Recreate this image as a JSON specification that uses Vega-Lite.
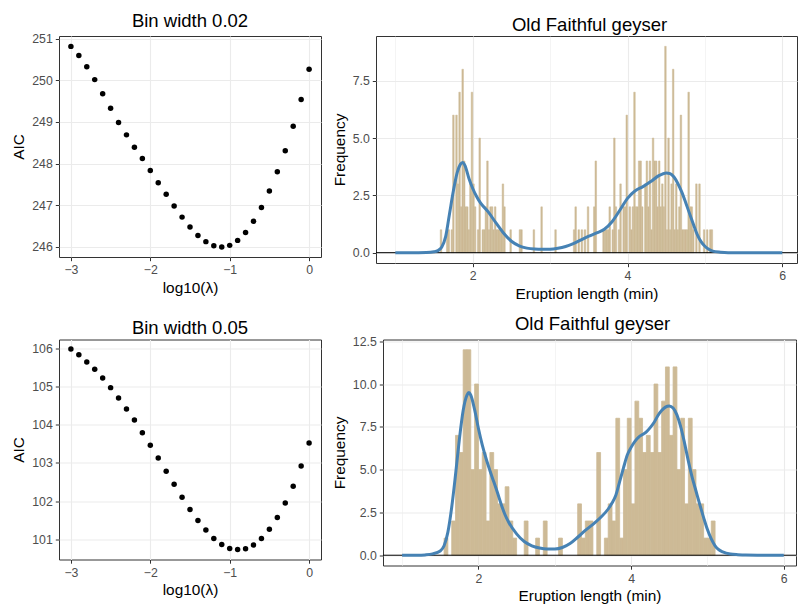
{
  "$schema": "https://vega.github.io/schema/vega-lite/v6.json",
  "background": "white",
  "padding": {"left": 11, "top": 11, "right": 0, "bottom": 0},
  "config": {
    "font": "Liberation Sans",
    "view": {"stroke": "#333333", "strokeWidth": 1},
    "axis": {
      "domain": false,
      "grid": true,
      "gridColor": "#EBEBEB",
      "tickColor": "#333333",
      "tickSize": 3.7,
      "tickWidth": 1,
      "labelColor": "#4D4D4D",
      "labelFontSize": 12.3,
      "labelFont": "Liberation Sans",
      "labelPadding": 3,
      "titleFont": "Liberation Sans",
      "titleFontSize": 15.4,
      "titleFontWeight": "normal",
      "titleColor": "black",
      "titlePadding": 4
    },
    "axisY": {"titlePadding": 5},
    "title": {"font": "Liberation Sans", "fontSize": 18.5, "fontWeight": "normal", "color": "black", "offset": 2, "frame": "group", "anchor": "middle"}
  },
  "datasets": {
    "aic02": [
      {"l": -3.0, "aic": 250.82}, {"l": -2.9, "aic": 250.60}, {"l": -2.8, "aic": 250.33}, {"l": -2.7, "aic": 250.02},
      {"l": -2.6, "aic": 249.68}, {"l": -2.5, "aic": 249.33}, {"l": -2.4, "aic": 248.99}, {"l": -2.3, "aic": 248.69},
      {"l": -2.2, "aic": 248.39}, {"l": -2.1, "aic": 248.12}, {"l": -2.0, "aic": 247.83}, {"l": -1.9, "aic": 247.54},
      {"l": -1.8, "aic": 247.26}, {"l": -1.7, "aic": 246.98}, {"l": -1.6, "aic": 246.71}, {"l": -1.5, "aic": 246.47},
      {"l": -1.4, "aic": 246.27}, {"l": -1.3, "aic": 246.12}, {"l": -1.2, "aic": 246.02}, {"l": -1.1, "aic": 245.99},
      {"l": -1.0, "aic": 246.03}, {"l": -0.9, "aic": 246.15}, {"l": -0.8, "aic": 246.34}, {"l": -0.7, "aic": 246.61},
      {"l": -0.6, "aic": 246.94}, {"l": -0.5, "aic": 247.34}, {"l": -0.4, "aic": 247.80}, {"l": -0.3, "aic": 248.31},
      {"l": -0.2, "aic": 248.90}, {"l": -0.1, "aic": 249.54}, {"l": 0.0, "aic": 250.27}
    ],
    "aic05": [
      {"l": -3.0, "aic": 105.98}, {"l": -2.9, "aic": 105.83}, {"l": -2.8, "aic": 105.64}, {"l": -2.7, "aic": 105.45},
      {"l": -2.6, "aic": 105.22}, {"l": -2.5, "aic": 104.97}, {"l": -2.4, "aic": 104.70}, {"l": -2.3, "aic": 104.41},
      {"l": -2.2, "aic": 104.12}, {"l": -2.1, "aic": 103.79}, {"l": -2.0, "aic": 103.46}, {"l": -1.9, "aic": 103.13},
      {"l": -1.8, "aic": 102.78}, {"l": -1.7, "aic": 102.44}, {"l": -1.6, "aic": 102.10}, {"l": -1.5, "aic": 101.78},
      {"l": -1.4, "aic": 101.49}, {"l": -1.3, "aic": 101.24}, {"l": -1.2, "aic": 101.02}, {"l": -1.1, "aic": 100.86},
      {"l": -1.0, "aic": 100.76}, {"l": -0.9, "aic": 100.73}, {"l": -0.8, "aic": 100.75}, {"l": -0.7, "aic": 100.85},
      {"l": -0.6, "aic": 101.02}, {"l": -0.5, "aic": 101.26}, {"l": -0.4, "aic": 101.57}, {"l": -0.3, "aic": 101.95},
      {"l": -0.2, "aic": 102.39}, {"l": -0.1, "aic": 102.92}, {"l": 0.0, "aic": 103.52}
    ],
    "hist02": [
      {"lo": 1.58, "hi": 1.60, "n": 1}, {"lo": 1.66, "hi": 1.68, "n": 1}, {"lo": 1.68, "hi": 1.70, "n": 1},
      {"lo": 1.72, "hi": 1.74, "n": 1}, {"lo": 1.74, "hi": 1.76, "n": 6}, {"lo": 1.78, "hi": 1.80, "n": 6},
      {"lo": 1.80, "hi": 1.82, "n": 3}, {"lo": 1.82, "hi": 1.84, "n": 7}, {"lo": 1.84, "hi": 1.86, "n": 2},
      {"lo": 1.86, "hi": 1.88, "n": 8}, {"lo": 1.88, "hi": 1.90, "n": 4}, {"lo": 1.90, "hi": 1.92, "n": 2},
      {"lo": 1.92, "hi": 1.94, "n": 2}, {"lo": 1.94, "hi": 1.96, "n": 1}, {"lo": 1.96, "hi": 1.98, "n": 3},
      {"lo": 1.98, "hi": 2.00, "n": 7}, {"lo": 2.00, "hi": 2.02, "n": 3}, {"lo": 2.02, "hi": 2.04, "n": 2},
      {"lo": 2.06, "hi": 2.08, "n": 1}, {"lo": 2.08, "hi": 2.10, "n": 5}, {"lo": 2.12, "hi": 2.14, "n": 1},
      {"lo": 2.14, "hi": 2.16, "n": 1}, {"lo": 2.16, "hi": 2.18, "n": 2}, {"lo": 2.18, "hi": 2.20, "n": 4},
      {"lo": 2.20, "hi": 2.22, "n": 1}, {"lo": 2.22, "hi": 2.24, "n": 2}, {"lo": 2.24, "hi": 2.26, "n": 2},
      {"lo": 2.26, "hi": 2.28, "n": 1}, {"lo": 2.28, "hi": 2.30, "n": 2}, {"lo": 2.30, "hi": 2.32, "n": 1},
      {"lo": 2.32, "hi": 2.34, "n": 1}, {"lo": 2.34, "hi": 2.36, "n": 1}, {"lo": 2.36, "hi": 2.38, "n": 1},
      {"lo": 2.38, "hi": 2.40, "n": 3}, {"lo": 2.40, "hi": 2.42, "n": 2}, {"lo": 2.48, "hi": 2.50, "n": 1},
      {"lo": 2.60, "hi": 2.62, "n": 1}, {"lo": 2.62, "hi": 2.64, "n": 1}, {"lo": 2.78, "hi": 2.80, "n": 1},
      {"lo": 2.88, "hi": 2.90, "n": 2}, {"lo": 3.06, "hi": 3.08, "n": 1}, {"lo": 3.30, "hi": 3.32, "n": 1},
      {"lo": 3.32, "hi": 3.34, "n": 2}, {"lo": 3.36, "hi": 3.38, "n": 1}, {"lo": 3.40, "hi": 3.42, "n": 1},
      {"lo": 3.44, "hi": 3.46, "n": 1}, {"lo": 3.48, "hi": 3.50, "n": 2}, {"lo": 3.56, "hi": 3.58, "n": 2},
      {"lo": 3.58, "hi": 3.60, "n": 4}, {"lo": 3.68, "hi": 3.70, "n": 1}, {"lo": 3.70, "hi": 3.72, "n": 1},
      {"lo": 3.72, "hi": 3.74, "n": 1}, {"lo": 3.74, "hi": 3.76, "n": 1}, {"lo": 3.76, "hi": 3.78, "n": 2},
      {"lo": 3.80, "hi": 3.82, "n": 1}, {"lo": 3.82, "hi": 3.84, "n": 5}, {"lo": 3.84, "hi": 3.86, "n": 2},
      {"lo": 3.88, "hi": 3.90, "n": 1}, {"lo": 3.90, "hi": 3.92, "n": 3}, {"lo": 3.94, "hi": 3.96, "n": 2},
      {"lo": 3.96, "hi": 3.98, "n": 2}, {"lo": 3.98, "hi": 4.00, "n": 6}, {"lo": 4.02, "hi": 4.04, "n": 2},
      {"lo": 4.04, "hi": 4.06, "n": 1}, {"lo": 4.06, "hi": 4.08, "n": 2}, {"lo": 4.08, "hi": 4.10, "n": 7},
      {"lo": 4.10, "hi": 4.12, "n": 2}, {"lo": 4.12, "hi": 4.14, "n": 2}, {"lo": 4.14, "hi": 4.16, "n": 4},
      {"lo": 4.16, "hi": 4.18, "n": 4}, {"lo": 4.18, "hi": 4.20, "n": 2}, {"lo": 4.22, "hi": 4.24, "n": 3},
      {"lo": 4.24, "hi": 4.26, "n": 4}, {"lo": 4.26, "hi": 4.28, "n": 2}, {"lo": 4.28, "hi": 4.30, "n": 4},
      {"lo": 4.30, "hi": 4.32, "n": 1}, {"lo": 4.32, "hi": 4.34, "n": 5}, {"lo": 4.34, "hi": 4.36, "n": 4},
      {"lo": 4.36, "hi": 4.38, "n": 4}, {"lo": 4.38, "hi": 4.40, "n": 2}, {"lo": 4.40, "hi": 4.42, "n": 4},
      {"lo": 4.42, "hi": 4.44, "n": 2}, {"lo": 4.44, "hi": 4.46, "n": 3}, {"lo": 4.46, "hi": 4.48, "n": 2},
      {"lo": 4.48, "hi": 4.50, "n": 9}, {"lo": 4.50, "hi": 4.52, "n": 1}, {"lo": 4.52, "hi": 4.54, "n": 5},
      {"lo": 4.54, "hi": 4.56, "n": 1}, {"lo": 4.56, "hi": 4.58, "n": 3}, {"lo": 4.58, "hi": 4.60, "n": 8},
      {"lo": 4.60, "hi": 4.62, "n": 1}, {"lo": 4.62, "hi": 4.64, "n": 3}, {"lo": 4.64, "hi": 4.66, "n": 1},
      {"lo": 4.66, "hi": 4.68, "n": 2}, {"lo": 4.68, "hi": 4.70, "n": 6}, {"lo": 4.70, "hi": 4.72, "n": 1},
      {"lo": 4.72, "hi": 4.74, "n": 1}, {"lo": 4.74, "hi": 4.76, "n": 1}, {"lo": 4.76, "hi": 4.78, "n": 1},
      {"lo": 4.78, "hi": 4.80, "n": 7}, {"lo": 4.80, "hi": 4.82, "n": 2}, {"lo": 4.82, "hi": 4.84, "n": 2},
      {"lo": 4.84, "hi": 4.86, "n": 1}, {"lo": 4.88, "hi": 4.90, "n": 3}, {"lo": 4.92, "hi": 4.94, "n": 3},
      {"lo": 4.98, "hi": 5.00, "n": 1}, {"lo": 5.02, "hi": 5.04, "n": 1}, {"lo": 5.06, "hi": 5.08, "n": 1},
      {"lo": 5.08, "hi": 5.10, "n": 1}
    ],
    "hist05": [
      {"lo": 1.55, "hi": 1.60, "n": 1}, {"lo": 1.65, "hi": 1.70, "n": 2}, {"lo": 1.70, "hi": 1.75, "n": 7},
      {"lo": 1.75, "hi": 1.80, "n": 6}, {"lo": 1.80, "hi": 1.85, "n": 12}, {"lo": 1.85, "hi": 1.90, "n": 12},
      {"lo": 1.90, "hi": 1.95, "n": 5}, {"lo": 1.95, "hi": 2.00, "n": 10}, {"lo": 2.00, "hi": 2.05, "n": 5},
      {"lo": 2.05, "hi": 2.10, "n": 6}, {"lo": 2.10, "hi": 2.15, "n": 2}, {"lo": 2.15, "hi": 2.20, "n": 6},
      {"lo": 2.20, "hi": 2.25, "n": 5}, {"lo": 2.25, "hi": 2.30, "n": 3}, {"lo": 2.30, "hi": 2.35, "n": 3},
      {"lo": 2.35, "hi": 2.40, "n": 4}, {"lo": 2.40, "hi": 2.45, "n": 2}, {"lo": 2.45, "hi": 2.50, "n": 1},
      {"lo": 2.60, "hi": 2.65, "n": 2}, {"lo": 2.75, "hi": 2.80, "n": 1}, {"lo": 2.85, "hi": 2.90, "n": 2},
      {"lo": 3.05, "hi": 3.10, "n": 1}, {"lo": 3.30, "hi": 3.35, "n": 3}, {"lo": 3.35, "hi": 3.40, "n": 1},
      {"lo": 3.40, "hi": 3.45, "n": 2}, {"lo": 3.45, "hi": 3.50, "n": 2}, {"lo": 3.55, "hi": 3.60, "n": 6},
      {"lo": 3.65, "hi": 3.70, "n": 1}, {"lo": 3.70, "hi": 3.75, "n": 3}, {"lo": 3.75, "hi": 3.80, "n": 2},
      {"lo": 3.80, "hi": 3.85, "n": 8}, {"lo": 3.85, "hi": 3.90, "n": 1}, {"lo": 3.90, "hi": 3.95, "n": 5},
      {"lo": 3.95, "hi": 4.00, "n": 8}, {"lo": 4.00, "hi": 4.05, "n": 3}, {"lo": 4.05, "hi": 4.10, "n": 9},
      {"lo": 4.10, "hi": 4.15, "n": 8}, {"lo": 4.15, "hi": 4.20, "n": 6}, {"lo": 4.20, "hi": 4.25, "n": 7},
      {"lo": 4.25, "hi": 4.30, "n": 6}, {"lo": 4.30, "hi": 4.35, "n": 10}, {"lo": 4.35, "hi": 4.40, "n": 6},
      {"lo": 4.40, "hi": 4.45, "n": 9}, {"lo": 4.45, "hi": 4.50, "n": 11}, {"lo": 4.50, "hi": 4.55, "n": 7},
      {"lo": 4.55, "hi": 4.60, "n": 11}, {"lo": 4.60, "hi": 4.65, "n": 5}, {"lo": 4.65, "hi": 4.70, "n": 8},
      {"lo": 4.70, "hi": 4.75, "n": 3}, {"lo": 4.75, "hi": 4.80, "n": 8}, {"lo": 4.80, "hi": 4.85, "n": 5},
      {"lo": 4.85, "hi": 4.90, "n": 3}, {"lo": 4.90, "hi": 4.95, "n": 3}, {"lo": 4.95, "hi": 5.00, "n": 1},
      {"lo": 5.00, "hi": 5.05, "n": 1}, {"lo": 5.05, "hi": 5.10, "n": 2}
    ],
    "dens02": [
      {"x": 1.0, "y": 0}, {"x": 1.2, "y": 0}, {"x": 1.4, "y": 0.01}, {"x": 1.5, "y": 0.04}, {"x": 1.55, "y": 0.09},
      {"x": 1.6, "y": 0.25}, {"x": 1.65, "y": 0.7}, {"x": 1.7, "y": 1.7}, {"x": 1.75, "y": 2.7}, {"x": 1.8, "y": 3.5},
      {"x": 1.84, "y": 3.85}, {"x": 1.87, "y": 3.93}, {"x": 1.9, "y": 3.8}, {"x": 1.95, "y": 3.25}, {"x": 2.0, "y": 2.8},
      {"x": 2.05, "y": 2.45}, {"x": 2.1, "y": 2.17}, {"x": 2.2, "y": 1.78}, {"x": 2.3, "y": 1.3}, {"x": 2.4, "y": 0.85},
      {"x": 2.5, "y": 0.5}, {"x": 2.6, "y": 0.3}, {"x": 2.7, "y": 0.2}, {"x": 2.8, "y": 0.16}, {"x": 2.9, "y": 0.15},
      {"x": 3.0, "y": 0.15}, {"x": 3.1, "y": 0.19}, {"x": 3.2, "y": 0.27}, {"x": 3.3, "y": 0.4}, {"x": 3.4, "y": 0.56},
      {"x": 3.5, "y": 0.72}, {"x": 3.6, "y": 0.86}, {"x": 3.7, "y": 1.02}, {"x": 3.8, "y": 1.35}, {"x": 3.9, "y": 1.85},
      {"x": 4.0, "y": 2.37}, {"x": 4.1, "y": 2.7}, {"x": 4.2, "y": 2.88}, {"x": 4.3, "y": 3.1}, {"x": 4.4, "y": 3.35},
      {"x": 4.5, "y": 3.48}, {"x": 4.55, "y": 3.45}, {"x": 4.6, "y": 3.3}, {"x": 4.65, "y": 3.02}, {"x": 4.7, "y": 2.65},
      {"x": 4.75, "y": 2.2}, {"x": 4.8, "y": 1.72}, {"x": 4.85, "y": 1.25}, {"x": 4.9, "y": 0.8}, {"x": 4.95, "y": 0.48},
      {"x": 5.0, "y": 0.28}, {"x": 5.05, "y": 0.15}, {"x": 5.1, "y": 0.07}, {"x": 5.2, "y": 0.02}, {"x": 5.3, "y": 0.0},
      {"x": 5.5, "y": 0}, {"x": 6.0, "y": 0}
    ],
    "dens05": [
      {"x": 1.0, "y": 0}, {"x": 1.2, "y": 0}, {"x": 1.3, "y": 0.02}, {"x": 1.4, "y": 0.08}, {"x": 1.5, "y": 0.25},
      {"x": 1.55, "y": 0.55}, {"x": 1.6, "y": 1.35}, {"x": 1.65, "y": 2.8}, {"x": 1.7, "y": 4.7}, {"x": 1.75, "y": 6.75},
      {"x": 1.8, "y": 8.45}, {"x": 1.85, "y": 9.35}, {"x": 1.875, "y": 9.5}, {"x": 1.9, "y": 9.35}, {"x": 1.95, "y": 8.5},
      {"x": 2.0, "y": 7.4}, {"x": 2.05, "y": 6.45}, {"x": 2.1, "y": 5.65}, {"x": 2.15, "y": 4.95}, {"x": 2.2, "y": 4.3},
      {"x": 2.25, "y": 3.65}, {"x": 2.3, "y": 2.95}, {"x": 2.35, "y": 2.35}, {"x": 2.4, "y": 1.9}, {"x": 2.5, "y": 1.25},
      {"x": 2.6, "y": 0.8}, {"x": 2.7, "y": 0.55}, {"x": 2.8, "y": 0.42}, {"x": 2.9, "y": 0.36}, {"x": 3.0, "y": 0.36},
      {"x": 3.1, "y": 0.45}, {"x": 3.2, "y": 0.68}, {"x": 3.3, "y": 1.05}, {"x": 3.4, "y": 1.45}, {"x": 3.5, "y": 1.8},
      {"x": 3.6, "y": 2.2}, {"x": 3.7, "y": 2.7}, {"x": 3.75, "y": 3.05}, {"x": 3.8, "y": 3.5}, {"x": 3.85, "y": 4.3},
      {"x": 3.9, "y": 5.1}, {"x": 3.95, "y": 5.85}, {"x": 4.0, "y": 6.3}, {"x": 4.05, "y": 6.65}, {"x": 4.1, "y": 6.9},
      {"x": 4.15, "y": 7.05}, {"x": 4.2, "y": 7.2}, {"x": 4.25, "y": 7.45}, {"x": 4.3, "y": 7.75}, {"x": 4.35, "y": 8.15},
      {"x": 4.4, "y": 8.45}, {"x": 4.45, "y": 8.65}, {"x": 4.5, "y": 8.72}, {"x": 4.55, "y": 8.6}, {"x": 4.6, "y": 8.2},
      {"x": 4.65, "y": 7.5}, {"x": 4.7, "y": 6.55}, {"x": 4.75, "y": 5.5}, {"x": 4.8, "y": 4.55}, {"x": 4.85, "y": 3.75},
      {"x": 4.9, "y": 2.95}, {"x": 4.95, "y": 2.2}, {"x": 5.0, "y": 1.5}, {"x": 5.05, "y": 0.95}, {"x": 5.1, "y": 0.55},
      {"x": 5.15, "y": 0.32}, {"x": 5.2, "y": 0.2}, {"x": 5.3, "y": 0.07}, {"x": 5.4, "y": 0.03}, {"x": 5.5, "y": 0.01},
      {"x": 6.0, "y": 0}
    ]
  },
  "spacing": 11.5,
  "vconcat": [
    {
      "spacing": 9,
      "hconcat": [
        {
          "title": "Bin width 0.02",
          "width": 262,
          "height": 221,
          "data": {"name": "aic02"},
          "mark": {"type": "point", "filled": true, "color": "black", "size": 30, "opacity": 1},
          "encoding": {
            "x": {"field": "l", "type": "quantitative", "title": "log10(λ)",
              "scale": {"domain": [-3.15, 0.15], "nice": false, "zero": false},
              "axis": {"values": [-3, -2.5, -2, -1.5, -1, -0.5, 0], "format": "d",
                "labelExpr": "datum.value % 1 === 0 ? datum.label : ''",
                "gridWidth": {"condition": {"test": "datum.value % 1 !== 0", "value": 0.55}, "value": 1.1},
                "tickOpacity": {"condition": {"test": "datum.value % 1 !== 0", "value": 0}, "value": 1}}},
            "y": {"field": "aic", "type": "quantitative", "title": "AIC",
              "scale": {"domain": [245.75, 251.07], "nice": false, "zero": false},
              "axis": {"values": [246, 246.5, 247, 247.5, 248, 248.5, 249, 249.5, 250, 250.5, 251], "format": "d",
                "labelExpr": "datum.value % 1 === 0 ? datum.label : ''",
                "gridWidth": {"condition": {"test": "datum.value % 1 !== 0", "value": 0.55}, "value": 1.1},
                "tickOpacity": {"condition": {"test": "datum.value % 1 !== 0", "value": 0}, "value": 1}}}
          }
        },
        {
          "title": {"text": "Old Faithful geyser", "dx": 3},
          "width": 421,
          "height": 227,
          "layer": [
            {
              "data": {"name": "hist02"},
              "mark": {"type": "rect", "color": "#CDBA96", "stroke": "#CDBA96", "strokeWidth": 0.5},
              "encoding": {
                "x": {"field": "lo", "type": "quantitative", "title": "Eruption length (min)",
                  "scale": {"domain": [0.75, 6.19], "nice": false, "zero": false},
                  "axis": {"values": [1, 2, 3, 4, 5, 6], "format": "d",
                    "labelExpr": "datum.value % 2 === 0 ? datum.label : ''",
                    "gridWidth": {"condition": {"test": "datum.value % 2 !== 0", "value": 0.55}, "value": 1.1},
                    "tickOpacity": {"condition": {"test": "datum.value % 2 !== 0", "value": 0}, "value": 1}}},
                "x2": {"field": "hi"},
                "y": {"field": "n", "type": "quantitative", "title": "Frequency",
                  "scale": {"domain": [-0.45, 9.45], "nice": false, "zero": false},
                  "axis": {"values": [0, 1.25, 2.5, 3.75, 5, 6.25, 7.5, 8.75], "format": ".1f",
                    "labelExpr": "datum.value % 2.5 === 0 ? datum.label : ''",
                    "gridWidth": {"condition": {"test": "datum.value % 2.5 !== 0", "value": 0.55}, "value": 1.1},
                    "tickOpacity": {"condition": {"test": "datum.value % 2.5 !== 0", "value": 0}, "value": 1}}},
                "y2": {"datum": 0}
              }
            },
            {
              "data": {"values": [{}]},
              "mark": {"type": "rule", "color": "black", "strokeWidth": 1},
              "encoding": {"y": {"datum": 0, "type": "quantitative", "title": "Frequency"}}
            },
            {
              "data": {"name": "dens02"},
              "mark": {"type": "line", "color": "#4682B4", "strokeWidth": 3, "interpolate": "monotone"},
              "encoding": {
                "x": {"field": "x", "type": "quantitative", "title": "Eruption length (min)"},
                "y": {"field": "y", "type": "quantitative", "title": "Frequency"}
              }
            }
          ]
        }
      ]
    },
    {
      "spacing": 9,
      "hconcat": [
        {
          "title": "Bin width 0.05",
          "width": 262,
          "height": 220,
          "data": {"name": "aic05"},
          "mark": {"type": "point", "filled": true, "color": "black", "size": 30, "opacity": 1},
          "encoding": {
            "x": {"field": "l", "type": "quantitative", "title": "log10(λ)",
              "scale": {"domain": [-3.15, 0.15], "nice": false, "zero": false},
              "axis": {"values": [-3, -2.5, -2, -1.5, -1, -0.5, 0], "format": "d",
                "labelExpr": "datum.value % 1 === 0 ? datum.label : ''",
                "gridWidth": {"condition": {"test": "datum.value % 1 !== 0", "value": 0.55}, "value": 1.1},
                "tickOpacity": {"condition": {"test": "datum.value % 1 !== 0", "value": 0}, "value": 1}}},
            "y": {"field": "aic", "type": "quantitative", "title": "AIC",
              "scale": {"domain": [100.47, 106.23], "nice": false, "zero": false},
              "axis": {"values": [101, 101.5, 102, 102.5, 103, 103.5, 104, 104.5, 105, 105.5, 106], "format": "d",
                "labelExpr": "datum.value % 1 === 0 ? datum.label : ''",
                "gridWidth": {"condition": {"test": "datum.value % 1 !== 0", "value": 0.55}, "value": 1.1},
                "tickOpacity": {"condition": {"test": "datum.value % 1 !== 0", "value": 0}, "value": 1}}}
          }
        },
        {
          "title": {"text": "Old Faithful geyser", "dx": 3},
          "width": 413,
          "height": 226,
          "layer": [
            {
              "data": {"name": "hist05"},
              "mark": {"type": "rect", "color": "#CDBA96", "stroke": "#CDBA96", "strokeWidth": 0.8},
              "encoding": {
                "x": {"field": "lo", "type": "quantitative", "title": "Eruption length (min)",
                  "scale": {"domain": [0.75, 6.16], "nice": false, "zero": false},
                  "axis": {"values": [1, 2, 3, 4, 5, 6], "format": "d",
                    "labelExpr": "datum.value % 2 === 0 ? datum.label : ''",
                    "gridWidth": {"condition": {"test": "datum.value % 2 !== 0", "value": 0.55}, "value": 1.1},
                    "tickOpacity": {"condition": {"test": "datum.value % 2 !== 0", "value": 0}, "value": 1}}},
                "x2": {"field": "hi"},
                "y": {"field": "n", "type": "quantitative", "title": "Frequency",
                  "scale": {"domain": [-0.6, 12.6], "nice": false, "zero": false},
                  "axis": {"values": [0, 1.25, 2.5, 3.75, 5, 6.25, 7.5, 8.75, 10, 11.25, 12.5], "format": ".1f",
                    "labelExpr": "datum.value % 2.5 === 0 ? datum.label : ''",
                    "gridWidth": {"condition": {"test": "datum.value % 2.5 !== 0", "value": 0.55}, "value": 1.1},
                    "tickOpacity": {"condition": {"test": "datum.value % 2.5 !== 0", "value": 0}, "value": 1}}},
                "y2": {"datum": 0}
              }
            },
            {
              "data": {"values": [{}]},
              "mark": {"type": "rule", "color": "black", "strokeWidth": 1},
              "encoding": {"y": {"datum": 0, "type": "quantitative", "title": "Frequency"}}
            },
            {
              "data": {"name": "dens05"},
              "mark": {"type": "line", "color": "#4682B4", "strokeWidth": 3, "interpolate": "monotone"},
              "encoding": {
                "x": {"field": "x", "type": "quantitative", "title": "Eruption length (min)"},
                "y": {"field": "y", "type": "quantitative", "title": "Frequency"}
              }
            }
          ]
        }
      ]
    }
  ]
}
